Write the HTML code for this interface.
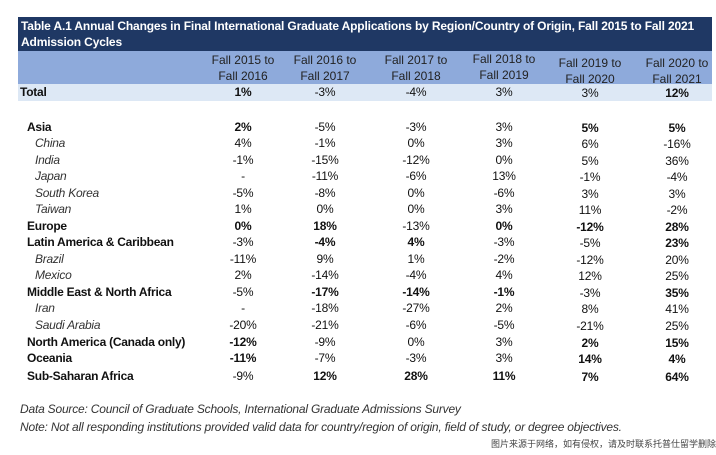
<!DOCTYPE html>
<html><head><meta charset="utf-8">
<style>
body{margin:0;width:716px;height:455px;background:#fff;position:relative;overflow:hidden;font-family:"Liberation Sans",Arial,sans-serif;color:#111;}
.abs{position:absolute;}
#title{left:18px;top:17px;width:694px;height:34px;background:#1f3864;color:#fff;font-weight:bold;font-size:12px;line-height:16px;padding:1px 0 0 3px;box-sizing:border-box;letter-spacing:-0.15px;}
#hdr{left:18px;top:51px;width:694px;height:33px;background:#8eaadb;}
#totalbg{left:18px;top:84px;width:694px;height:17px;background:#dde8f5;}
.h{font-size:12px;line-height:16px;text-align:center;width:86px;color:#222;}
.c{font-size:12px;text-align:center;width:70px;line-height:16px;letter-spacing:-0.2px;}
.lab{font-size:12px;line-height:16px;letter-spacing:-0.25px;white-space:nowrap;}
.foot{font-size:12px;font-style:italic;color:#333;left:20px;letter-spacing:-0.2px;}
</style></head><body>
<div id="title" class="abs">Table A.1 Annual Changes in Final International Graduate Applications by Region/Country of Origin, Fall 2015 to Fall 2021<br>Admission Cycles</div>
<div id="hdr" class="abs"></div>
<div id="totalbg" class="abs"></div>
<div class="abs foot" style="top:402px">Data Source: Council of Graduate Schools, International Graduate Admissions Survey</div>
<div class="abs foot" style="top:420px">Note: Not all responding institutions provided valid data for country/region of origin, field of study, or degree objectives.</div>
<div class="abs" style="right:0;top:437px;font-size:9px;color:#444;font-family:'Liberation Sans','Noto Sans CJK SC',sans-serif;white-space:nowrap">图片来源于网络，如有侵权，请及时联系托普仕留学删除</div>
<script>
const headers=["Fall 2015 to|Fall 2016","Fall 2016 to|Fall 2017","Fall 2017 to|Fall 2018","Fall 2018 to|Fall 2019","Fall 2019 to|Fall 2020","Fall 2020 to|Fall 2021"];
const colX=[243,325,416,504,590,677];
const headerTop=[52,52,52,51,55,55];
const labels=["Total","Asia","China","India","Japan","South Korea","Taiwan","Europe","Latin America & Caribbean","Brazil","Mexico","Middle East & North Africa","Iran","Saudi Arabia","North America (Canada only)","Oceania","Sub-Saharan Africa"];
const kinds=["t","r","c","c","c","c","c","r","r","c","c","r","c","c","r","r","r"];
const values=[
["1%","-3%","-4%","3%","3%","12%"],
["2%","-5%","-3%","3%","5%","5%"],
["4%","-1%","0%","3%","6%","-16%"],
["-1%","-15%","-12%","0%","5%","36%"],
["-","-11%","-6%","13%","-1%","-4%"],
["-5%","-8%","0%","-6%","3%","3%"],
["1%","0%","0%","3%","11%","-2%"],
["0%","18%","-13%","0%","-12%","28%"],
["-3%","-4%","4%","-3%","-5%","23%"],
["-11%","9%","1%","-2%","-12%","20%"],
["2%","-14%","-4%","4%","12%","25%"],
["-5%","-17%","-14%","-1%","-3%","35%"],
["-","-18%","-27%","2%","8%","41%"],
["-20%","-21%","-6%","-5%","-21%","25%"],
["-12%","-9%","0%","3%","2%","15%"],
["-11%","-7%","-3%","3%","14%","4%"],
["-9%","12%","28%","11%","7%","64%"]];
const bold=[
[1,0,0,0,0,1],[1,0,0,0,1,1],[0,0,0,0,0,0],[0,0,0,0,0,0],[0,0,0,0,0,0],[0,0,0,0,0,0],[0,0,0,0,0,0],
[1,1,0,1,1,1],[0,1,1,0,0,1],[0,0,0,0,0,0],[0,0,0,0,0,0],[0,1,1,1,0,1],[0,0,0,0,0,0],[0,0,0,0,0,0],
[1,0,0,0,1,1],[1,0,0,0,1,1],[0,1,1,1,1,1]];
const rowY=[84,119,135,152,168,185,201,218,234,251,267,284,300,317,334,350,368];
const colYOff=[0,0,0,0,1,1];
headers.forEach((h,i)=>{
  const d=document.createElement('div');
  d.className='abs h';
  d.style.left=(colX[i]-43)+'px';d.style.top=headerTop[i]+'px';
  d.innerHTML=h.replace('|','<br>');
  
  
  document.body.appendChild(d);
});
labels.forEach((l,r)=>{
  const d=document.createElement('div');
  d.className='abs lab';
  const k=kinds[r];
  d.style.left=(k==='t'?20:k==='r'?27:35)+'px';
  d.style.top=rowY[r]+'px';
  if(k!=='c'){d.style.fontWeight='bold';}else{d.style.fontStyle='italic';d.style.color='#333';}
  d.textContent=l;
  
  
  document.body.appendChild(d);
  values[r].forEach((v,c)=>{
    const e=document.createElement('div');
    e.className='abs c';
    e.style.left=(colX[c]-35)+'px';
    e.style.top=(rowY[r]+colYOff[c])+'px';
    if(bold[r][c])e.style.fontWeight='bold';
    e.textContent=v;
    
    
    document.body.appendChild(e);
  });
});
</script>
</body></html>
